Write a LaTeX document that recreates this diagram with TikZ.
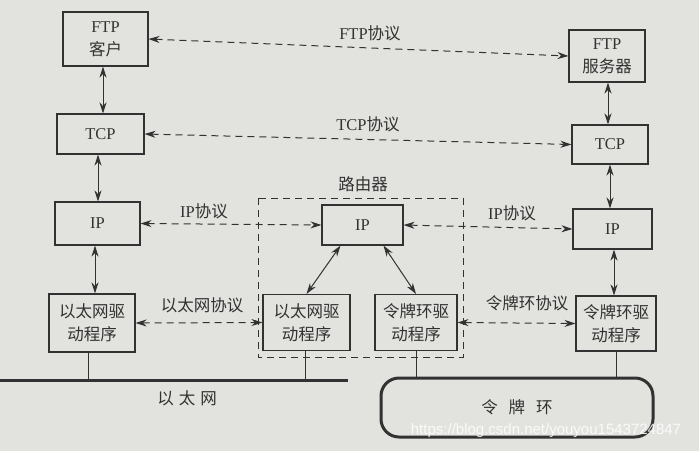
\documentclass[tikz,border=0pt]{standalone}
\usepackage{fontspec}
\setmainfont{Liberation Serif}
\newfontfamily\cjk{Noto Sans CJK SC}
\newfontfamily\wmfont{Liberation Sans}
\usetikzlibrary{arrows.meta,calc}
\newcommand\zh[1]{{\cjk #1}}
\definecolor{paper}{RGB}{226,226,222}
\definecolor{ink}{RGB}{50,50,50}
\tikzset{
  box/.style={draw=ink, line width=1.1pt, align=center, inner sep=0pt,
    font=\fontsize{16.5}{23}\selectfont, text=ink},
  lbl/.style={font=\fontsize{16.5}{19}\selectfont, text=ink, inner sep=1pt},
  proto/.style={draw=ink, line width=1pt, dash pattern=on 7pt off 5pt,
    {Stealth[length=11pt,width=7pt]}-{Stealth[length=11pt,width=7pt]}},
  stack/.style={draw=ink, line width=1pt,
    {Stealth[length=11pt,width=7pt]}-{Stealth[length=11pt,width=7pt]}},
  wire/.style={draw=ink, line width=1pt},
}
\begin{document}
\begin{tikzpicture}[x=1pt,y=-1pt]
\fill[paper] (0,0) rectangle (699,451);
\useasboundingbox (0,0) rectangle (699,451);

% router dashed box
\draw[ink, line width=1pt, dash pattern=on 7pt off 5pt] (258,198) rectangle (463,357);
\node[lbl] (rlabel) at (363,184) {\zh{路由器}};

% left host
\node[box, minimum width=85pt, minimum height=54pt] (ftpc) at (105.5,39) {FTP\\\zh{客户}};
\node[box, minimum width=87pt, minimum height=40pt] (tcpl) at (100.5,134) {TCP};
\node[box, minimum width=85pt, minimum height=43pt] (ipl) at (97.5,223.5) {IP};
\node[box, minimum width=86pt, minimum height=58pt] (ethl) at (92,323) {\zh{以太网驱}\\\zh{动程序}};

% router
\node[box, minimum width=81pt, minimum height=40pt] (ipr) at (362.5,225) {IP};
\node[box, minimum width=87pt, minimum height=56pt] (ethr) at (306.5,322.5) {\zh{以太网驱}\\\zh{动程序}};
\node[box, minimum width=82pt, minimum height=56pt] (tokr) at (416,322.5) {\zh{令牌环驱}\\\zh{动程序}};

% right host
\node[box, minimum width=76pt, minimum height=52pt] (ftps) at (607,56) {FTP\\\zh{服务器}};
\node[box, minimum width=76pt, minimum height=39pt] (tcpr) at (610,144.5) {TCP};
\node[box, minimum width=79pt, minimum height=40pt] (iprr) at (612.5,229) {IP};
\node[box, minimum width=80pt, minimum height=55pt] (tokrr) at (616,323.5) {\zh{令牌环驱}\\\zh{动程序}};

% networks
\coordinate (e1) at (0,380);
\coordinate (e2) at (348,380);
\draw[ink, line width=3pt] (e1) -- (e2);
\node[lbl] (ethname) at (187,398) {\zh{以\hspace{5pt}太\hspace{5pt}网}};
\node[draw=ink, line width=3pt, rounded corners=18pt, minimum width=272pt, minimum height=59pt,
  font=\fontsize{16.5}{19}\selectfont, text=ink] (ring) at (517,407.5) {\zh{令\hspace{11pt}牌\hspace{11pt}环}};

\draw[wire] ([xshift=-4pt]ethl.south) -- ([xshift=-4pt]ethl.south |- e1);
\draw[wire] ([xshift=-1.5pt]ethr.south) -- ([xshift=-1.5pt]ethr.south |- e1);
\draw[wire] (tokr.south) -- (tokr.south |- ring.north);
\draw[wire] (tokrr.south) -- (tokrr.south |- ring.north);

% stack arrows
\draw[stack] ([xshift=-2.5pt]ftpc.south) -- ([xshift=2.5pt]tcpl.north);
\draw[stack] ([xshift=-2.5pt]tcpl.south) -- ([xshift=0.5pt]ipl.north);
\draw[stack] ([xshift=-2.5pt]ipl.south) -- ([xshift=3pt]ethl.north);
\draw[stack] ([xshift=1pt]ftps.south) -- ([xshift=-2pt]tcpr.north);
\draw[stack] (tcpr.south) -- ([xshift=-2.5pt]iprr.north);
\draw[stack] ([xshift=1.5pt]iprr.south) -- ([xshift=-2pt]tokrr.north);
\draw[stack] ([xshift=-22pt]ipr.south) -- (ethr.north);
\draw[stack] ([xshift=21pt]ipr.south) -- (tokr.north);

% protocol arrows
\draw[proto] (ftpc.east) -- (ftps.west);
\draw[proto] (tcpl.east) -- (tcpr.west);
\draw[proto] (ipl.east) -- (ipr.west);
\draw[proto] (ipr.east) -- (iprr.west);
\draw[proto] (ethl.east) -- (ethr.west);
\draw[proto] (tokr.east) -- (tokrr.west);

\node[lbl] (l1) at (370,33) {FTP\zh{协议}};
\node[lbl] (l2) at (368,124) {TCP\zh{协议}};
\node[lbl] (l3) at (204,211) {IP\zh{协议}};
\node[lbl] (l4) at (512,213) {IP\zh{协议}};
\node[lbl] (l5) at (202,305) {\zh{以太网协议}};
\node[lbl] (l6) at (527,303) {\zh{令牌环协议}};

% watermark
\node[font=\wmfont\fontsize{15}{18}\selectfont, text=white, opacity=0.85, inner sep=0pt] (wm) at (546,431) {https://blog.csdn.net/youyou1543724847};
\end{tikzpicture}
\end{document}
